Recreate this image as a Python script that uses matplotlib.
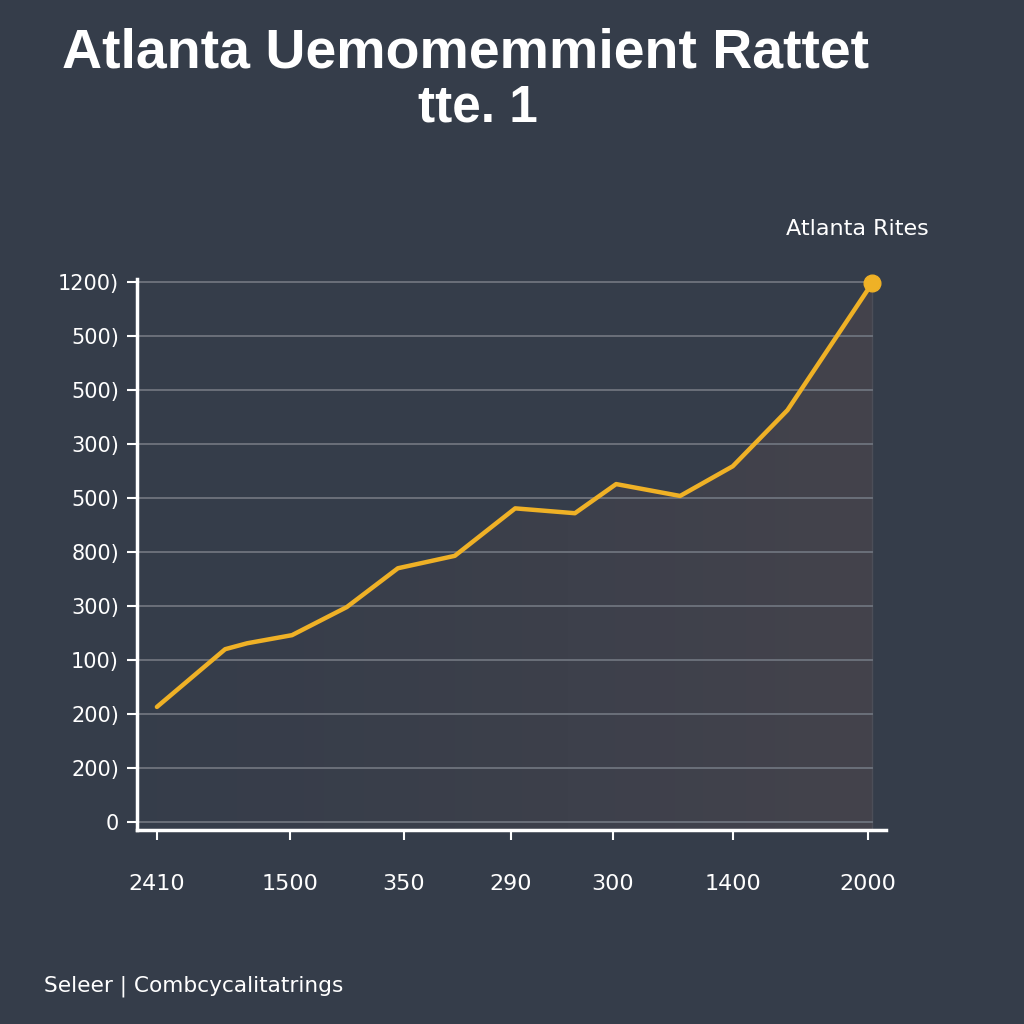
import matplotlib.pyplot as plt
import numpy as np
from matplotlib.colors import LinearSegmentedColormap

# values (y in grid steps, x in tick units)
x_vals = [0, 0.96, 1.27, 1.9, 2.67, 3.39, 4.19, 5.04, 5.88, 6.46, 7.36, 8.1, 8.87, 10.06]
y_vals = [2.13, 3.2, 3.31, 3.46, 3.98, 4.7, 4.93, 5.81, 5.72, 6.26, 6.04, 6.59, 7.63, 9.98]

x_ticks = [0, 1.87, 3.47, 4.98, 6.41, 8.1, 10]
x_labels = ['2410', '1500', '350', '290', '300', '1400', '2000']
y_ticks = list(range(11))
y_labels = ['0', '200)', '200)', '100)', '300)', '800)', '500)', '300)', '500)', '500)', '1200)']

bg = '#353d4a'
gold = '#efb126'

fig = plt.figure(figsize=(10.24, 10.24), dpi=100, facecolor=bg)
ax = fig.add_axes([0.1338, 0.1895, 0.7324, 0.538])
ax.set_facecolor(bg)

xmin, xmax = -0.28, 10.27
ymin, ymax = -0.15, 10.06
ax.set_xlim(xmin, xmax)
ax.set_ylim(ymin, ymax)

# soft gradient under the line
poly = ax.fill_between(x_vals, y_vals, ymin, color='none', lw=0)
cmap = LinearSegmentedColormap.from_list('g', ['#363d4a', '#44434c'])
grad = np.linspace(0, 1, 256).reshape(1, -1) ** 1.3
img = ax.imshow(grad, cmap=cmap, extent=[xmin, x_vals[-1], ymin, ymax],
                aspect='auto', zorder=1)
img.set_clip_path(poly.get_paths()[0], transform=ax.transData)
ax.axvline(x_vals[-1], ymin=0, ymax=(y_vals[-1] - ymin) / (ymax - ymin),
           color='#4c4e58', lw=1, zorder=1)

for t in y_ticks:
    ax.axhline(t, color='#6b707a', lw=1.4, zorder=2, xmax=(x_vals[-1] - xmin) / (xmax - xmin))

ax.plot(x_vals, y_vals, color=gold, lw=3.2, zorder=4, solid_capstyle='round')
ax.plot(x_vals[-1], y_vals[-1], 'o', color=gold, ms=12, zorder=5, clip_on=False)

ax.set_xticks(x_ticks)
ax.set_xticklabels(x_labels)
ax.set_yticks(y_ticks)
ax.set_yticklabels(y_labels)
ax.tick_params(axis='x', colors='white', length=7, width=1.5, pad=25, labelsize=16)
ax.tick_params(axis='y', colors='white', length=7, width=1.5, pad=6, labelsize=15)

for s in ['top', 'right']:
    ax.spines[s].set_visible(False)
ax.spines['left'].set_color('white')
ax.spines['bottom'].set_color('white')
ax.spines['left'].set_linewidth(2.5)
ax.spines['bottom'].set_linewidth(2.5)
ax.spines['bottom'].set_bounds(xmin, x_vals[-1] + 0.2)

fig.text(0.455, 0.948, 'Atlanta Uemomemmient Rattet', color='white', fontsize=40,
         fontweight='bold', family='Liberation Sans', ha='center', va='center')
fig.text(0.467, 0.895, 'tte. 1', color='white', fontsize=37,
         fontweight='bold', family='Liberation Sans', ha='center', va='center')
fig.text(0.837, 0.776, 'Atlanta Rites', color='white', fontsize=16,
         ha='center', va='center')
fig.text(0.043, 0.037, 'Seleer | Combcycalitatrings', color='white', fontsize=15.6,
         ha='left', va='center')

plt.savefig('out.png', dpi=100, facecolor=bg)
